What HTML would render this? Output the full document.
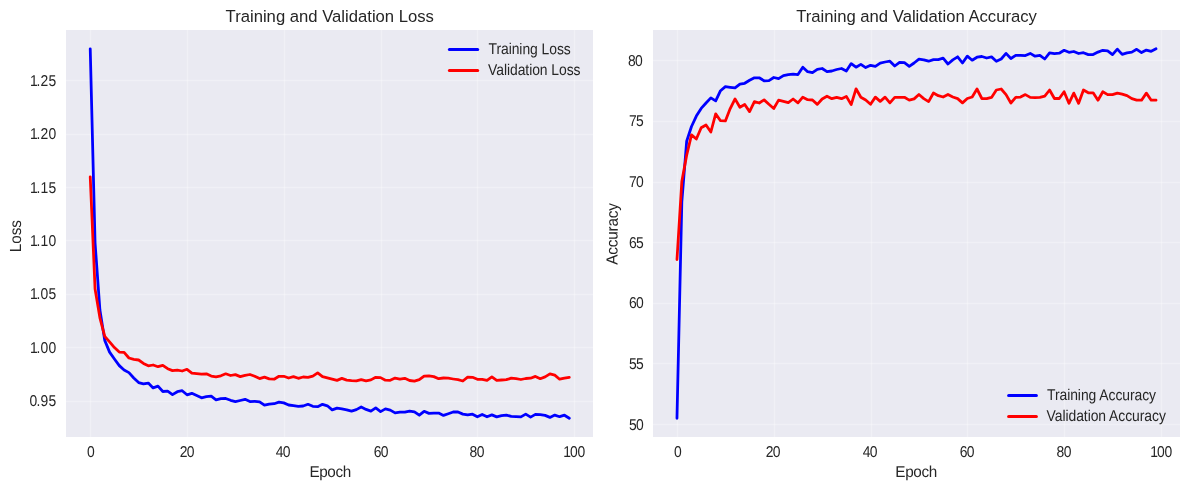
<!DOCTYPE html>
<html lang="en">
<head>
<meta charset="utf-8">
<title>Training and Validation Curves</title>
<style>
html,body{margin:0;padding:0;background:#fff;}
body{width:1189px;height:490px;overflow:hidden;font-family:"Liberation Sans",sans-serif;}
svg{display:block;}
</style>
</head>
<body>
<svg width="1189" height="490" viewBox="0 0 1189 490" font-family="'Liberation Sans', sans-serif" fill="#262626">
<rect width="1189" height="490" fill="#fff"/>
<rect x="66" y="30" width="527" height="407" fill="#EAEAF2"/>
<g stroke="#fff" stroke-opacity="0.3" stroke-width="1.389">
<line x1="90.5" y1="30" x2="90.5" y2="437"/>
<line x1="187.5" y1="30" x2="187.5" y2="437"/>
<line x1="284.5" y1="30" x2="284.5" y2="437"/>
<line x1="381.5" y1="30" x2="381.5" y2="437"/>
<line x1="477.5" y1="30" x2="477.5" y2="437"/>
<line x1="574.5" y1="30" x2="574.5" y2="437"/>
<line x1="66" y1="80.5" x2="593" y2="80.5"/>
<line x1="66" y1="134.5" x2="593" y2="134.5"/>
<line x1="66" y1="187.5" x2="593" y2="187.5"/>
<line x1="66" y1="240.5" x2="593" y2="240.5"/>
<line x1="66" y1="294.5" x2="593" y2="294.5"/>
<line x1="66" y1="347.5" x2="593" y2="347.5"/>
<line x1="66" y1="401.5" x2="593" y2="401.5"/>
</g>
<g fill="none" stroke-width="2.78" stroke-linecap="round" stroke-linejoin="round">
<path d="M90.23,48.80 L95.07,243.00 L99.91,310.00 L104.75,340.40 L109.59,352.10 L114.43,359.00 L119.27,365.60 L124.10,370.00 L128.94,372.60 L133.78,378.00 L138.62,382.60 L143.46,383.80 L148.30,383.10 L153.14,387.90 L157.98,386.10 L162.82,391.50 L167.66,391.20 L172.49,394.60 L177.33,391.70 L182.17,390.70 L187.01,394.80 L191.85,393.30 L196.69,395.50 L201.53,397.80 L206.37,396.70 L211.21,396.20 L216.05,399.80 L220.88,398.60 L225.72,398.50 L230.56,400.30 L235.40,401.60 L240.24,400.50 L245.08,399.30 L249.92,401.60 L254.76,401.30 L259.60,401.80 L264.44,405.20 L269.27,404.10 L274.11,403.70 L278.95,402.10 L283.79,402.90 L288.63,405.00 L293.47,405.70 L298.31,406.30 L303.15,406.00 L307.99,404.30 L312.83,406.30 L317.67,406.70 L322.50,404.30 L327.34,405.80 L332.18,409.90 L337.02,408.10 L341.86,408.90 L346.70,409.80 L351.54,411.10 L356.38,409.60 L361.22,407.00 L366.06,409.40 L370.89,411.10 L375.73,407.80 L380.57,411.60 L385.41,408.90 L390.25,410.10 L395.09,412.90 L399.93,412.20 L404.77,412.20 L409.61,411.10 L414.45,411.80 L419.28,415.20 L424.12,411.30 L428.96,413.40 L433.80,413.10 L438.64,413.10 L443.48,415.40 L448.32,413.70 L453.16,412.00 L458.00,412.00 L462.84,414.10 L467.68,414.90 L472.51,414.20 L477.35,416.80 L482.19,414.40 L487.03,416.80 L491.87,414.90 L496.71,416.90 L501.55,415.70 L506.39,415.10 L511.23,416.40 L516.07,416.70 L520.90,416.90 L525.74,414.10 L530.58,417.10 L535.42,414.40 L540.26,414.70 L545.10,415.40 L549.94,417.40 L554.78,415.10 L559.62,416.70 L564.46,415.20 L569.29,418.25" stroke="#0000FF"/>
<path d="M90.23,176.80 L95.07,289.00 L99.91,317.80 L104.75,336.30 L109.59,341.90 L114.43,347.60 L119.27,352.10 L124.10,352.40 L128.94,358.00 L133.78,359.30 L138.62,360.00 L143.46,363.40 L148.30,365.80 L153.14,365.00 L157.98,366.70 L162.82,365.30 L167.66,368.70 L172.49,370.60 L177.33,370.10 L182.17,371.00 L187.01,369.30 L191.85,373.10 L196.69,373.60 L201.53,374.10 L206.37,373.80 L211.21,376.10 L216.05,376.80 L220.88,375.80 L225.72,373.80 L230.56,375.50 L235.40,374.60 L240.24,376.60 L245.08,375.30 L249.92,374.50 L254.76,376.30 L259.60,378.60 L264.44,377.10 L269.27,378.90 L274.11,379.20 L278.95,376.30 L283.79,376.30 L288.63,378.00 L293.47,376.60 L298.31,378.30 L303.15,377.00 L307.99,377.30 L312.83,376.10 L317.67,372.80 L322.50,376.60 L327.34,377.90 L332.18,379.20 L337.02,380.40 L341.86,378.40 L346.70,380.10 L351.54,380.60 L356.38,380.90 L361.22,379.70 L366.06,380.90 L370.89,379.90 L375.73,377.30 L380.57,377.60 L385.41,380.20 L390.25,380.30 L395.09,378.10 L399.93,379.10 L404.77,378.30 L409.61,380.50 L414.45,381.20 L419.28,379.70 L424.12,376.10 L428.96,375.90 L433.80,376.60 L438.64,378.70 L443.48,378.00 L448.32,378.20 L453.16,379.00 L458.00,379.70 L462.84,381.00 L467.68,377.10 L472.51,377.30 L477.35,379.30 L482.19,379.40 L487.03,380.40 L491.87,376.90 L496.71,380.40 L501.55,380.00 L506.39,379.70 L511.23,378.20 L516.07,378.70 L520.90,379.50 L525.74,378.50 L530.58,378.20 L535.42,376.40 L540.26,378.70 L545.10,376.90 L549.94,373.90 L554.78,375.10 L559.62,379.20 L564.46,378.20 L569.29,377.40" stroke="#FF0000"/>
</g>
<text transform="translate(87.1,457) rotate(0.05) scale(1,1.13)" x="0" font-size="13.89px">0</text>
<text transform="translate(179.7,457) rotate(0.05) scale(1,1.13)" x="0 7.1" font-size="13.89px">20</text>
<text transform="translate(275.7,457) rotate(0.05) scale(1,1.13)" x="0 7.1" font-size="13.89px">40</text>
<text transform="translate(373.7,457) rotate(0.05) scale(1,1.13)" x="0 7.1" font-size="13.89px">60</text>
<text transform="translate(469.6,457) rotate(0.05) scale(1,1.13)" x="0 7.2" font-size="13.89px">80</text>
<text transform="translate(563.3,457) rotate(0.05) scale(1,1.13)" x="0 6.6 14.2" font-size="13.89px">100</text>
<text transform="translate(29.9,86) rotate(0.05) scale(1,1.13)" x="0 6.7 10.65 18.65" font-size="13.89px">1.25</text>
<text transform="translate(29.9,139) rotate(0.05) scale(1,1.13)" x="0 6.7 10.65 18.65" font-size="13.89px">1.20</text>
<text transform="translate(29.9,193) rotate(0.05) scale(1,1.13)" x="0 6.7 10.65 18.65" font-size="13.89px">1.15</text>
<text transform="translate(29.9,246) rotate(0.05) scale(1,1.13)" x="0 6.7 10.65 18.65" font-size="13.89px">1.10</text>
<text transform="translate(29.9,299) rotate(0.05) scale(1,1.13)" x="0 6.7 10.65 18.65" font-size="13.89px">1.05</text>
<text transform="translate(29.9,353) rotate(0.05) scale(1,1.13)" x="0 6.7 10.65 18.65" font-size="13.89px">1.00</text>
<text transform="translate(29.4,406) rotate(0.05) scale(1,1.13)" x="0 7.2 11.15 19.15" font-size="13.89px">0.95</text>
<text transform="translate(329.76,21.9)" font-size="16.67px" text-anchor="middle">Training and Validation Loss</text>
<text transform="translate(330.16,477) rotate(0.05) scale(1,1.03)" font-size="15.28px" text-anchor="middle" letter-spacing="-0.36px">Epoch</text>
<rect x="653" y="30" width="527" height="407" fill="#EAEAF2"/>
<g stroke="#fff" stroke-opacity="0.3" stroke-width="1.389">
<line x1="677.5" y1="30" x2="677.5" y2="437"/>
<line x1="774.5" y1="30" x2="774.5" y2="437"/>
<line x1="871.5" y1="30" x2="871.5" y2="437"/>
<line x1="967.5" y1="30" x2="967.5" y2="437"/>
<line x1="1064.5" y1="30" x2="1064.5" y2="437"/>
<line x1="1161.5" y1="30" x2="1161.5" y2="437"/>
<line x1="653" y1="60.5" x2="1180" y2="60.5"/>
<line x1="653" y1="121.5" x2="1180" y2="121.5"/>
<line x1="653" y1="182.5" x2="1180" y2="182.5"/>
<line x1="653" y1="242.5" x2="1180" y2="242.5"/>
<line x1="653" y1="303.5" x2="1180" y2="303.5"/>
<line x1="653" y1="363.5" x2="1180" y2="363.5"/>
<line x1="653" y1="424.5" x2="1180" y2="424.5"/>
</g>
<g fill="none" stroke-width="2.78" stroke-linecap="round" stroke-linejoin="round">
<path d="M676.98,418.25 L681.82,202.00 L686.66,141.30 L691.50,126.50 L696.34,116.10 L701.18,108.40 L706.02,103.00 L710.85,97.90 L715.69,100.90 L720.53,90.70 L725.37,86.60 L730.21,87.30 L735.05,87.90 L739.89,84.10 L744.73,83.30 L749.57,80.30 L754.41,77.80 L759.24,77.80 L764.08,80.80 L768.92,80.60 L773.76,77.50 L778.60,78.70 L783.44,75.60 L788.28,74.60 L793.12,74.10 L797.96,74.60 L802.80,67.20 L807.63,71.70 L812.47,72.60 L817.31,69.30 L822.15,68.50 L826.99,71.70 L831.83,71.00 L836.67,69.50 L841.51,68.50 L846.35,71.00 L851.19,63.60 L856.02,67.20 L860.86,64.40 L865.70,67.60 L870.54,65.30 L875.38,66.30 L880.22,63.10 L885.06,62.00 L889.90,61.20 L894.74,66.00 L899.58,62.40 L904.42,62.70 L909.25,66.30 L914.09,63.00 L918.93,59.20 L923.77,59.90 L928.61,61.20 L933.45,59.60 L938.29,59.60 L943.13,58.20 L947.97,64.00 L952.81,59.90 L957.64,56.80 L962.48,63.00 L967.32,56.10 L972.16,60.20 L977.00,57.20 L981.84,56.50 L986.68,58.00 L991.52,56.90 L996.36,61.30 L1001.20,59.00 L1006.03,53.40 L1010.87,58.50 L1015.71,55.40 L1020.55,55.40 L1025.39,55.60 L1030.23,53.40 L1035.07,56.20 L1039.91,55.40 L1044.75,59.00 L1049.59,52.90 L1054.43,53.60 L1059.26,53.20 L1064.10,50.30 L1068.94,52.30 L1073.78,51.50 L1078.62,53.50 L1083.46,52.70 L1088.30,54.60 L1093.14,54.60 L1097.98,52.10 L1102.82,50.30 L1107.65,50.80 L1112.49,54.60 L1117.33,49.10 L1122.17,54.40 L1127.01,52.90 L1131.85,52.10 L1136.69,49.30 L1141.53,52.60 L1146.37,50.10 L1151.21,51.30 L1156.04,48.80" stroke="#0000FF"/>
<path d="M676.98,259.50 L681.82,181.60 L686.66,155.20 L691.50,134.90 L696.34,139.00 L701.18,127.80 L706.02,125.00 L710.85,132.00 L715.69,113.90 L720.53,120.70 L725.37,120.90 L730.21,108.60 L735.05,98.90 L739.89,107.30 L744.73,104.50 L749.57,111.60 L754.41,101.60 L759.24,103.00 L764.08,99.90 L768.92,104.30 L773.76,108.50 L778.60,100.10 L783.44,101.30 L788.28,102.60 L793.12,99.00 L797.96,102.80 L802.80,97.20 L807.63,99.70 L812.47,100.00 L817.31,104.40 L822.15,99.00 L826.99,96.20 L831.83,98.70 L836.67,97.40 L841.51,98.70 L846.35,96.40 L851.19,104.60 L856.02,88.80 L860.86,97.20 L865.70,100.00 L870.54,104.30 L875.38,97.10 L880.22,101.40 L885.06,97.10 L889.90,102.90 L894.74,97.30 L899.58,97.30 L904.42,97.30 L909.25,100.10 L914.09,98.90 L918.93,94.50 L923.77,98.60 L928.61,101.60 L933.45,93.00 L938.29,95.70 L943.13,97.00 L947.97,94.50 L952.81,97.00 L957.64,98.60 L962.48,102.90 L967.32,98.50 L972.16,97.00 L977.00,89.00 L981.84,98.50 L986.68,98.70 L991.52,97.40 L996.36,90.00 L1001.20,89.00 L1006.03,94.60 L1010.87,103.00 L1015.71,97.40 L1020.55,97.10 L1025.39,94.60 L1030.23,97.40 L1035.07,97.70 L1039.91,97.40 L1044.75,96.10 L1049.59,90.00 L1054.43,98.50 L1059.26,98.50 L1064.10,91.70 L1068.94,103.30 L1073.78,93.10 L1078.62,103.30 L1083.46,90.00 L1088.30,92.80 L1093.14,92.80 L1097.98,100.20 L1102.82,91.70 L1107.65,94.60 L1112.49,94.60 L1117.33,93.10 L1122.17,94.10 L1127.01,95.60 L1131.85,98.70 L1136.69,100.20 L1141.53,100.20 L1146.37,93.10 L1151.21,100.20 L1156.04,100.20" stroke="#FF0000"/>
</g>
<text transform="translate(674.1,457) rotate(0.05) scale(1,1.13)" x="0" font-size="13.89px">0</text>
<text transform="translate(765.7,457) rotate(0.05) scale(1,1.13)" x="0 7.1" font-size="13.89px">20</text>
<text transform="translate(862.7,457) rotate(0.05) scale(1,1.13)" x="0 7.1" font-size="13.89px">40</text>
<text transform="translate(959.7,457) rotate(0.05) scale(1,1.13)" x="0 7.1" font-size="13.89px">60</text>
<text transform="translate(1056.6,457) rotate(0.05) scale(1,1.13)" x="0 7.2" font-size="13.89px">80</text>
<text transform="translate(1150.3,457) rotate(0.05) scale(1,1.13)" x="0 6.6 14.2" font-size="13.89px">100</text>
<text transform="translate(628.1,66) rotate(0.05) scale(1,1.13)" x="0 7" font-size="13.89px">80</text>
<text transform="translate(629,126) rotate(0.05) scale(1,1.13)" x="0 7" font-size="13.89px">75</text>
<text transform="translate(629,187) rotate(0.05) scale(1,1.13)" x="0 7" font-size="13.89px">70</text>
<text transform="translate(629,248) rotate(0.05) scale(1,1.13)" x="0 7" font-size="13.89px">65</text>
<text transform="translate(629,308) rotate(0.05) scale(1,1.13)" x="0 7" font-size="13.89px">60</text>
<text transform="translate(629,369) rotate(0.05) scale(1,1.13)" x="0 7" font-size="13.89px">55</text>
<text transform="translate(629,430) rotate(0.05) scale(1,1.13)" x="0 7" font-size="13.89px">50</text>
<text transform="translate(916.51,21.9)" font-size="16.67px" text-anchor="middle">Training and Validation Accuracy</text>
<text transform="translate(916.11,477) rotate(0.05) scale(1,1.03)" font-size="15.28px" text-anchor="middle" letter-spacing="-0.36px">Epoch</text>
<text transform="translate(21,252.3) rotate(-90) rotate(0.05) scale(1,1.05)" font-size="15.28px" text-anchor="start">Loss</text>
<text transform="translate(617.6,264.8) rotate(-90) rotate(0.05) scale(1,1.05)" font-size="15.28px" text-anchor="start" letter-spacing="-0.17px">Accuracy</text>
<g stroke-width="3" stroke-linecap="round">
<line x1="449.4" y1="49.5" x2="477.7" y2="49.5" stroke="#0000FF"/>
<line x1="449.4" y1="70.5" x2="477.7" y2="70.5" stroke="#FF0000"/>
</g>
<text transform="translate(488.5,54.1) rotate(0.05) scale(1,1.13)" font-size="13.89px" text-anchor="start" letter-spacing="-0.05px">Training Loss</text>
<text transform="translate(488.1,75) rotate(0.05) scale(1,1.13)" font-size="13.89px" text-anchor="start" letter-spacing="-0.05px">Validation Loss</text>
<g stroke-width="3" stroke-linecap="round">
<line x1="1008.6" y1="395.5" x2="1036.4" y2="395.5" stroke="#0000FF"/>
<line x1="1008.6" y1="416.5" x2="1036.4" y2="416.5" stroke="#FF0000"/>
</g>
<text transform="translate(1047,400.1) rotate(0.05) scale(1,1.13)" font-size="13.89px" text-anchor="start" letter-spacing="-0.05px">Training Accuracy</text>
<text transform="translate(1046.6,421) rotate(0.05) scale(1,1.13)" font-size="13.89px" text-anchor="start" letter-spacing="-0.05px">Validation Accuracy</text>
</svg>
</body>
</html>
